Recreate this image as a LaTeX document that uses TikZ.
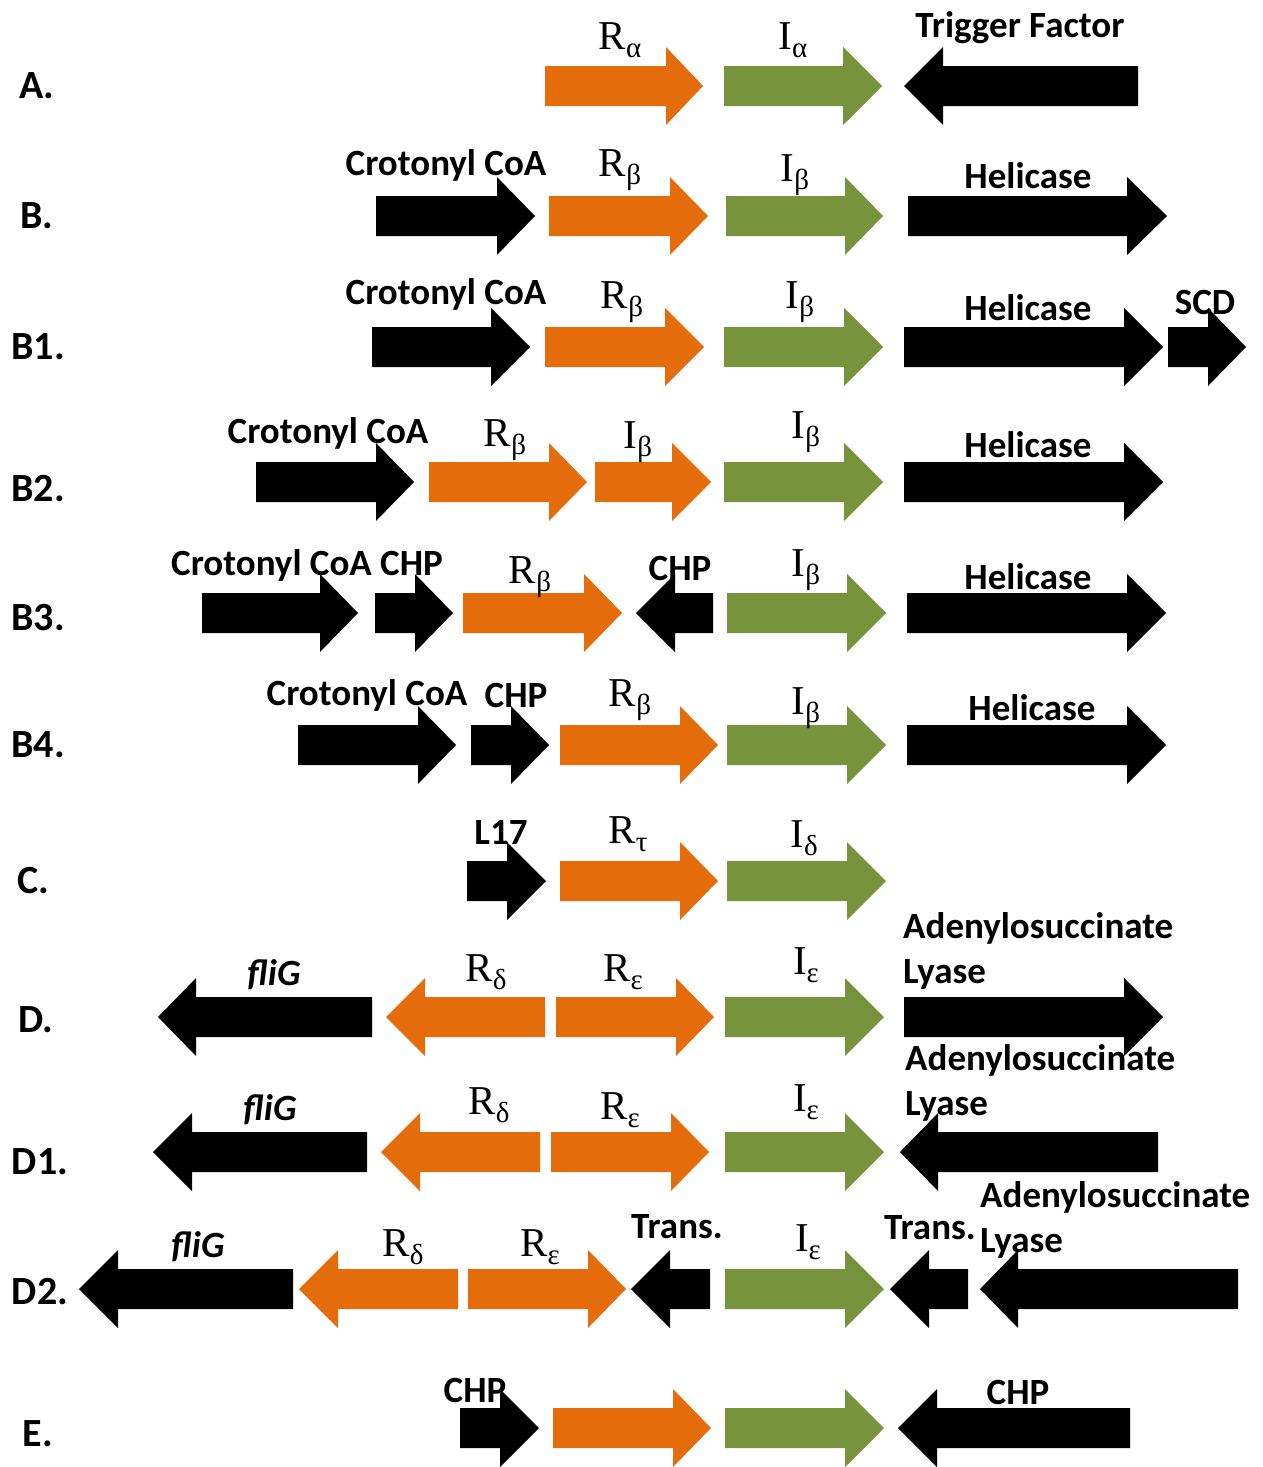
\documentclass[tikz,border=0pt]{standalone}
\usepackage{fontspec}
\setmainfont{Carlito}
\newfontfamily\serif{Liberation Serif}
\definecolor{gorange}{HTML}{E46C0A}
\definecolor{ggreen}{HTML}{77933C}
\newcommand\gene[5]{%
  \fill[#5] (#1,#4-20) -- (#2,#4-20) -- (#2,#4-39) -- (#3,#4) -- (#2,#4+39) -- (#2,#4+20) -- (#1,#4+20) -- cycle;}
\newcommand\gsub[2]{{\serif #1\raisebox{-8pt}{\fontsize{29}{29}\selectfont #2}}}
\tikzset{
  lab/.style={font=\fontsize{37}{40}\selectfont\bfseries, inner sep=0pt},
  row/.style={font=\fontsize{40}{44}\selectfont\bfseries, inner sep=0pt},
  gl/.style={font=\fontsize{41}{44}\selectfont, inner sep=0pt},
  two/.style={font=\fontsize{37}{45}\selectfont\bfseries, inner sep=0pt, align=left, anchor=north west},
}
\begin{document}
\begin{tikzpicture}[x=1pt,y=-1pt]
\fill[white] (0,0) rectangle (1263,1467);
\useasboundingbox (0,0) rectangle (1263,1467);
% ---- A
\gene{545}{666}{703}{86}{gorange}
\gene{724}{843}{882}{86}{ggreen}
\gene{1138}{943}{904}{86}{black}
\node[row] (lA) at (37,86) {A.};
\node[gl] (a1) at (620,40) {\gsub{R}{α}};
\node[gl] (a2) at (793,40) {\gsub{I}{α}};
\node[lab] (a3) at (1020,28) {Trigger Factor};
% ---- B
\gene{376}{497}{535}{216}{black}
\gene{549}{670}{708}{216}{gorange}
\gene{726}{845}{883}{216}{ggreen}
\gene{908}{1127}{1167}{216}{black}
\node[row] (lB) at (37,216) {B.};
\node[lab] (b1) at (446,165) {Crotonyl CoA};
\node[gl] (b2) at (620,170) {\gsub{R}{β}};
\node[gl] (b3) at (795,175) {\gsub{I}{β}};
\node[lab] (b4) at (1028,176) {Helicase};
% ---- B1
\gene{372}{491}{530}{347}{black}
\gene{545}{665}{704}{347}{gorange}
\gene{724}{844}{883}{347}{ggreen}
\gene{904}{1124}{1163}{347}{black}
\gene{1168}{1208}{1246}{347}{black}
\node[row] (lB1) at (38,347) {B1.};
\node[lab] (c1) at (446,294) {Crotonyl CoA};
\node[gl] (c2) at (622,302) {\gsub{R}{β}};
\node[gl] (c3) at (800,302) {\gsub{I}{β}};
\node[lab] (c4) at (1028,308) {Helicase};
\node[lab] (c5) at (1205,302) {SCD};
% ---- B2
\gene{256}{376}{414}{482}{black}
\gene{429}{549}{587}{482}{gorange}
\gene{595}{672}{711}{482}{gorange}
\gene{724}{844}{883}{482}{ggreen}
\gene{904}{1124}{1163}{482}{black}
\node[row] (lB2) at (38,489) {B2.};
\node[lab] (d1) at (328,433) {Crotonyl CoA};
\node[gl] (d2) at (505,440) {\gsub{R}{β}};
\node[gl] (d3) at (638,442) {\gsub{I}{β}};
\node[gl] (d4) at (806,432) {\gsub{I}{β}};
\node[lab] (d5) at (1028,445) {Helicase};
% ---- B3
\gene{202}{320}{358}{613}{black}
\gene{375}{415}{453}{613}{black}
\gene{463}{584}{622}{613}{gorange}
\gene{713}{675}{636}{613}{black}
\gene{727}{847}{886}{613}{ggreen}
\gene{907}{1127}{1166}{613}{black}
\node[row] (lB3) at (38,618) {B3.};
\node[lab] (e1) at (307,565) {Crotonyl CoA CHP};
\node[gl] (e2) at (530,577) {\gsub{R}{β}};
\node[lab] (e3) at (680,568) {CHP};
\node[gl] (e4) at (806,570) {\gsub{I}{β}};
\node[lab] (e5) at (1028,577) {Helicase};
% ---- B4
\gene{298}{418}{456}{745}{black}
\gene{471}{511}{549}{745}{black}
\gene{560}{680}{718}{745}{gorange}
\gene{727}{847}{886}{745}{ggreen}
\gene{907}{1127}{1166}{745}{black}
\node[row] (lB4) at (38,745) {B4.};
\node[lab] (f1) at (367,695) {Crotonyl CoA};
\node[lab] (f2) at (516,695) {CHP};
\node[gl] (f3) at (630,700) {\gsub{R}{β}};
\node[gl] (f4) at (806,708) {\gsub{I}{β}};
\node[lab] (f5) at (1032,708) {Helicase};
% ---- C
\gene{467}{507}{546}{881}{black}
\gene{560}{680}{718}{881}{gorange}
\gene{727}{847}{886}{881}{ggreen}
\node[row] (lC) at (33,881) {C.};
\node[lab] (g1) at (501,832) {L17};
\node[gl] (g2) at (628,834) {\gsub{R}{τ}};
\node[gl] (g3) at (804,838) {\gsub{I}{δ}};
% ---- D
\gene{372}{196}{158}{1017}{black}
\gene{545}{425}{386}{1017}{gorange}
\gene{556}{676}{714}{1017}{gorange}
\gene{725}{845}{884}{1017}{ggreen}
\gene{904}{1124}{1163}{1017}{black}
\node[row] (lD) at (36,1020) {D.};
\node[lab] (h1) at (274,975) {\itshape fliG};
\node[gl] (h2) at (486,972) {\gsub{R}{δ}};
\node[gl] (h3) at (623,972) {\gsub{R}{ε}};
\node[gl] (h4) at (806,965) {\gsub{I}{ε}};
\node[two] (h5) at (903,912) {Adenylosuccinate\\Lyase};
% ---- D1
\gene{367}{192}{153}{1152}{black}
\gene{540}{420}{381}{1152}{gorange}
\gene{551}{671}{709}{1152}{gorange}
\gene{725}{845}{884}{1152}{ggreen}
\gene{1158}{938}{900}{1152}{black}
\node[row] (lD1) at (40,1162) {D1.};
\node[lab] (i1) at (270,1110) {\itshape fliG};
\node[gl] (i2) at (489,1105) {\gsub{R}{δ}};
\node[gl] (i3) at (620,1110) {\gsub{R}{ε}};
\node[gl] (i4) at (806,1102) {\gsub{I}{ε}};
\node[two] (i5) at (905,1044) {Adenylosuccinate\\Lyase};
% ---- D2
\gene{293}{118}{79}{1289}{black}
\gene{458}{338}{299}{1289}{gorange}
\gene{468}{588}{626}{1289}{gorange}
\gene{710}{670}{631}{1289}{black}
\gene{725}{845}{884}{1289}{ggreen}
\gene{968}{929}{890}{1289}{black}
\gene{1238}{1018}{980}{1289}{black}
\node[row] (lD2) at (40,1292) {D2.};
\node[lab] (j1) at (198,1247) {\itshape fliG};
\node[gl] (j2) at (403,1247) {\gsub{R}{δ}};
\node[gl] (j3) at (540,1247) {\gsub{R}{ε}};
\node[lab] (j4) at (677,1227) {Trans.};
\node[gl] (j5) at (808,1242) {\gsub{I}{ε}};
\node[lab] (j6) at (930,1228) {Trans.};
\node[two] (j7) at (980,1181) {Adenylosuccinate\\Lyase};
% ---- E
\gene{460}{500}{539}{1428}{black}
\gene{553}{673}{711}{1428}{gorange}
\gene{725}{845}{884}{1428}{ggreen}
\gene{1130}{937}{898}{1428}{black}
\node[row] (lE) at (38,1434) {E.};
\node[lab] (k1) at (475,1390) {CHP};
\node[lab] (k2) at (1018,1392) {CHP};
\end{tikzpicture}
\end{document}
